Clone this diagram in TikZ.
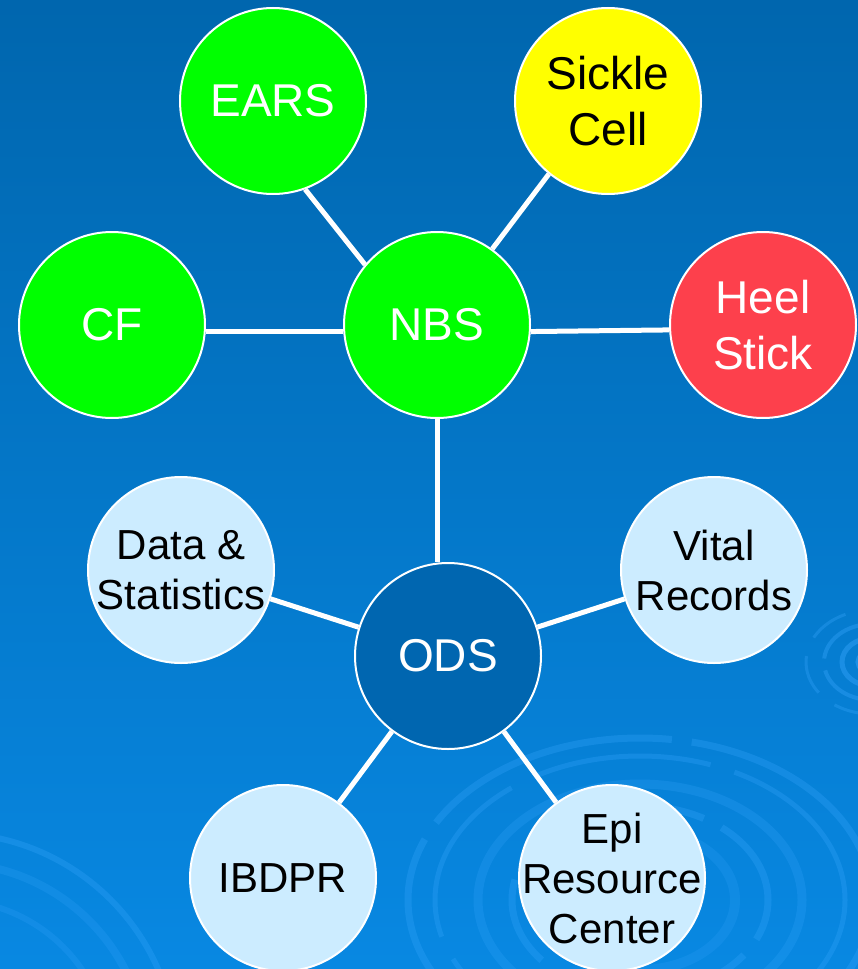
\documentclass[tikz,border=0pt]{standalone}
\usepackage{fontspec}
\setmainfont{Liberation Sans}
\definecolor{bgtop}{HTML}{0066AE}
\definecolor{bgmid}{HTML}{006CB8}
\definecolor{bgbot}{HTML}{0888E2}
\definecolor{ripcol}{HTML}{3AA8FF}
\definecolor{nbsgreen}{HTML}{00FF00}
\definecolor{sickyellow}{HTML}{FFFF00}
\definecolor{heelred}{HTML}{FD404C}
\definecolor{lightfill}{HTML}{CCECFF}
\definecolor{odsfill}{HTML}{0066B0}
\begin{document}
\begin{tikzpicture}[x=1pt,y=-1pt,
  bubble/.style={circle, draw=white, line width=2pt, minimum size=186pt, inner sep=0pt},
  bigtxt/.style={font=\fontsize{46}{56}\selectfont, align=center, inner sep=0pt},
  smalltxt/.style={font=\fontsize{42}{50}\selectfont, align=center, inner sep=0pt, text=black},
  link/.style={draw=white, line width=5pt},
  ripple/.style={draw=ripcol, line width=7pt, opacity=0.28}]
  % background
  \useasboundingbox (0,0) rectangle (858,969);
  \shade[top color=bgtop, middle color=bgmid, bottom color=bgbot] (0,0) rectangle (858,969);
  \begin{scope}
    \clip (0,0) rectangle (858,969);
    % lower right ripples
    \draw[ripple, dash pattern=on 260pt off 20pt] (640,900) ellipse [x radius=232pt, y radius=162pt];
    \draw[ripple, line width=5pt, dash pattern=on 180pt off 25pt] (640,900) ellipse [x radius=205pt, y radius=144pt];
    \draw[ripple, line width=9pt, opacity=0.22] (640,900) ellipse [x radius=162pt, y radius=116pt];
    \draw[ripple, dash pattern=on 90pt off 20pt] (640,900) ellipse [x radius=128pt, y radius=94pt];
    \draw[ripple, line width=10pt, opacity=0.18] (640,900) ellipse [x radius=95pt, y radius=70pt];
    % lower left ripples
    \draw[ripple, line width=6pt] (-50,1060) circle [radius=227pt];
    \draw[ripple, line width=8pt, opacity=0.2] (-50,1060) circle [radius=197pt];
    \draw[ripple, line width=6pt, opacity=0.2] (-50,1060) circle [radius=160pt];
    \draw[ripple, line width=8pt, opacity=0.15] (-30,1080) circle [radius=110pt];
    % small right ripple
    \draw[ripple, line width=5pt, opacity=0.45] (872,662) ellipse [x radius=14pt, y radius=11pt];
    \draw[ripple, line width=5pt, opacity=0.4] (872,662) ellipse [x radius=30pt, y radius=24pt];
    \draw[ripple, line width=4pt, opacity=0.35, dash pattern=on 60pt off 12pt] (872,662) ellipse [x radius=48pt, y radius=38pt];
    \draw[ripple, line width=3pt, opacity=0.3, dash pattern=on 40pt off 20pt] (872,662) ellipse [x radius=66pt, y radius=52pt];
  \end{scope}

  % circles
  \node[bubble, fill=nbsgreen] (EARS) at (273,101) {};
  \node[bubble, fill=sickyellow] (Sickle) at (608,101) {};
  \node[bubble, fill=nbsgreen] (CF) at (112,325) {};
  \node[bubble, fill=nbsgreen] (NBS) at (437,325) {};
  \node[bubble, fill=heelred] (Heel) at (763,325) {};
  \node[bubble, fill=lightfill] (Data) at (181,570) {};
  \node[bubble, fill=lightfill] (Vital) at (714,570) {};
  \node[bubble, fill=odsfill] (ODS) at (448,656) {};
  \node[bubble, fill=lightfill] (IBDPR) at (283,878) {};
  \node[bubble, fill=lightfill] (Epi) at (612,878) {};

  % labels
  \node[bigtxt, text=white] (EARSt) at (EARS) {EARS};
  \node[bigtxt, text=black] (Sicklet) at (Sickle) {Sickle\\Cell};
  \node[bigtxt, text=white] (CFt) at (CF) {CF};
  \node[bigtxt, text=white] (NBSt) at (NBS) {NBS};
  \node[bigtxt, text=white] (Heelt) at (Heel) {Heel\\Stick};
  \node[smalltxt] (Datat) at (Data) {Data \&\\Statistics};
  \node[smalltxt] (Vitalt) at (Vital) {Vital\\Records};
  \node[bigtxt, text=white] (ODSt) at (ODS) {ODS};
  \node[smalltxt] (IBDPRt) at (IBDPR) {IBDPR};
  \node[smalltxt] (Epit) at (Epi) {Epi\\Resource\\Center};

  % connectors
  \draw[link] (EARS.-70) -- (NBS.140);
  \draw[link] (Sickle.-129) -- (NBS.54);
  \draw[link] (CF.-4) -- (NBS.184);
  \draw[link] (NBS.-4) -- (Heel.183);
  \draw[link] (NBS.south) -- (NBS.south |- ODS.north);
  \draw[link] (Data) -- (ODS);
  \draw[link] (Vital) -- (ODS);
  \draw[link] (IBDPR) -- (ODS);
  \draw[link] (Epi) -- (ODS);
\end{tikzpicture}
\end{document}
